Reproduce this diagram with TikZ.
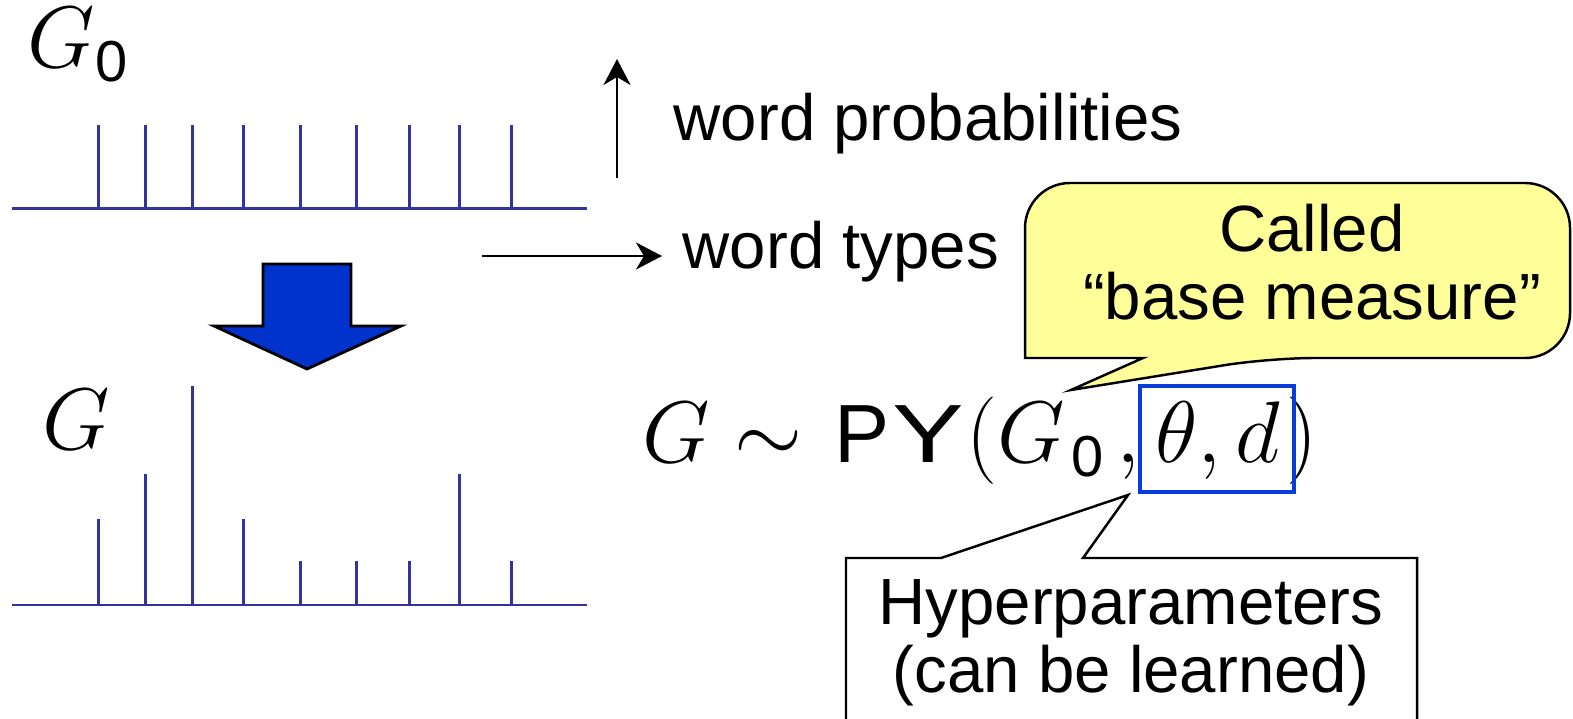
\documentclass[tikz,border=0pt]{standalone}
\usepackage{amsmath}
\usepackage{fontspec}
\usepackage{xcolor}
\usepackage{tikz}
\usetikzlibrary{arrows.meta}

\newfontfamily\helv{Liberation Sans}
\definecolor{axisblue}{RGB}{51,51,158}
\definecolor{arrowblue}{RGB}{0,51,204}
\definecolor{boxblue}{RGB}{10,60,220}
\definecolor{noteyellow}{RGB}{255,255,153}

\begin{document}
\begin{tikzpicture}[x=0.1mm, y=-0.1mm,
    axis/.style={axisblue, line width=0.85pt},
    note/.style={inner sep=0pt, font=\helv\fontsize{18.6}{19.4}\selectfont},
    bigmath/.style={inner sep=0pt, font=\fontsize{23.5}{26}\selectfont},
    pointer/.style={-{Stealth[length=2.6mm,width=2.7mm,inset=0.8mm]}, line width=0.75pt}]

        \useasboundingbox (0,0) rectangle (1573,719);

        % Base measure G_0
        \node[bigmath, anchor=base west] (gzero) at (27,68) {$G_{\text{\helv 0}}$};
        \draw[axis] (12,208.6) -- (587,208.6);
        \foreach \x in {98.3,145.4,192.6,243.7,300,356,409,459,511.5}
          \draw[axis] (\x,208.6) -- (\x,125.4);

        % Axis meaning
        \coordinate (ylow) at (617,178);
        \coordinate (yhigh) at (617,59);
        \draw[pointer] (ylow) -- (yhigh);
        \node[note, anchor=base west] (wprob) at (673,141) {word probabilities};
        \coordinate (xleft) at (482,256);
        \coordinate (xright) at (662,256);
        \draw[pointer] (xleft) -- (xright);
        \node[note, anchor=base west] (wtypes) at (682,269) {word types};

        % Block arrow
        \draw[fill=arrowblue, line width=0.8pt] (263,264) -- (351,264) -- (351,326) -- (401,326)
          -- (307,369) -- (214,326) -- (263,326) -- cycle;

        % Drawn G
        \node[bigmath, anchor=base west] (gdraw) at (42,450) {$G$};
        \draw[axis] (12,605) -- (587,605);
        \foreach \x/\h in {98.3/519,145.4/474,192.6/386,243.7/519,300/561,356/561,409/561,459/474,511.5/561}
          \draw[axis] (\x,605) -- (\x,\h);

        % Formula
        \node[bigmath, anchor=base west] (pyeq) at (642,463)
          {$G \sim \kern0.8mm\text{\helv P\kern0.3mm\scalebox{1.3}[1]{Y}}\kern0.2mm(G_{\kern0.6mm\text{\helv 0}}\kern1.2mm,\theta, d\kern0.6mm)$};
        \node[draw=boxblue, line width=0.9pt, minimum width=15.4mm, minimum height=10.6mm, inner sep=0pt] (hyperbox) at (1217,439) {};

        % Yellow callout
        \coordinate (basetip) at (1071,390);
        \draw[fill=noteyellow, line width=0.7pt] (basetip) -- (1143,358) -- (1025,358) [rounded corners=4.5mm]
          -- (1025,183) -- (1570,183) -- (1570,358) -- (1269,358) [sharp corners] -- cycle;
        \node[note, anchor=base] (called) at (1312,252) {Called};
        \node[note, anchor=base] (basem) at (1312,320) {“base measure”};

        % Hyperparameter callout
        \coordinate (hyptip) at (1128,495);
        \draw[fill=white, line width=0.7pt] (hyptip) -- (1083,558) -- (1417,558) -- (1417,740)
          -- (846,740) -- (846,558) -- (941,558) -- cycle;
        \node[note, anchor=base] (hyper) at (1131,624) {Hyperparameters};
        \node[note, anchor=base] (learn) at (1131,692) {(can be learned)};
      \end{tikzpicture}
\end{document}
